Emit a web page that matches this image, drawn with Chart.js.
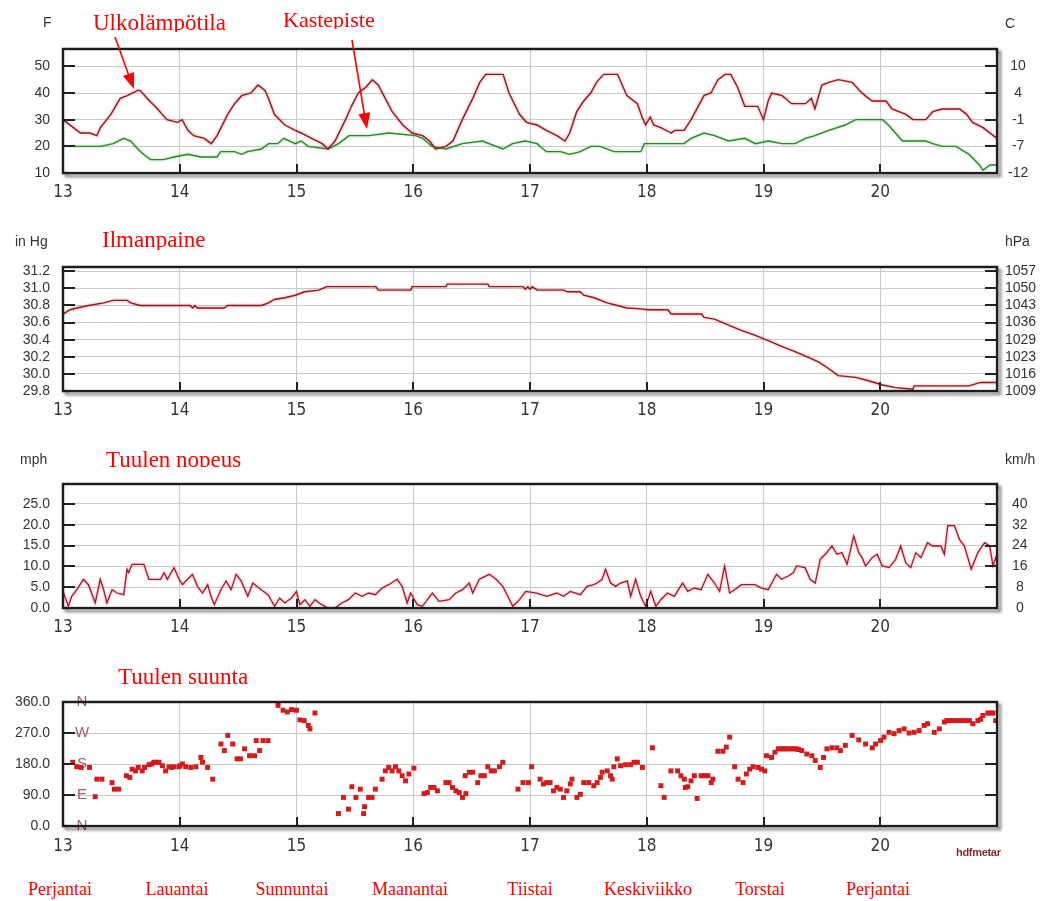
<!DOCTYPE html>
<html>
<head>
<meta charset="utf-8">
<script src="https://cdn.jsdelivr.net/npm/chart.js@4.4.0/dist/chart.umd.min.js"></script>
<style>
  html, body { margin: 0; padding: 0; background: #fff; }
  body { width: 1063px; height: 901px; position: relative; overflow: hidden; font-family: 'Liberation Sans', Arial, sans-serif; }
  canvas { position: absolute; left: 0; }
  .title { position: absolute; font-family: 'Liberation Serif', 'Times New Roman', serif; color: #ff0000; white-space: nowrap; overflow: hidden; line-height: 1; z-index: 3; }
  .unit { position: absolute; color: #333; font-size: 14px; line-height: 1; white-space: nowrap; z-index: 3; }
  .day { position: absolute; top: 880px; font-family: 'Liberation Serif', 'Times New Roman', serif; font-size: 18px; line-height: 1; color: #ff0000; white-space: nowrap; transform: translateX(-50%); }
  .sig { position: absolute; left: 956px; top: 846px; font-size: 11px; font-weight: bold; color: #8b2a2a; letter-spacing: -0.3px; }
  svg { position: absolute; left: 0; top: 0; z-index: 4; }
</style>
</head>
<body>

<canvas id="cTemp" width="1063" height="205" style="top:0px"></canvas>
<canvas id="cPress" width="1063" height="205" style="top:215px"></canvas>
<canvas id="cWind" width="1063" height="200" style="top:440px"></canvas>
<canvas id="cDir" width="1063" height="200" style="top:660px"></canvas>

<div class="unit" style="left:43px;top:15px">F</div>
<div class="unit" style="left:1005px;top:16px">C</div>
<div class="unit" style="left:15px;top:234px">in Hg</div>
<div class="unit" style="left:1005px;top:234px">hPa</div>
<div class="unit" style="left:20px;top:452px">mph</div>
<div class="unit" style="left:1005px;top:452px">km/h</div>

<div class="title" style="left:93px;top:11px;height:21px;font-size:23px">Ulkolämpötila</div>
<div class="title" style="left:283px;top:9px;height:20px;font-size:22px">Kastepiste</div>
<div class="title" style="left:102px;top:228px;height:22px;font-size:23px">Ilmanpaine</div>
<div class="title" style="left:106px;top:448px;height:19px;font-size:23px">Tuulen nopeus</div>
<div class="title" style="left:118px;top:665px;height:26px;font-size:23px">Tuulen suunta</div>

<div id="days"></div>
<div class="sig">hdfmetar</div>

<svg width="1063" height="901">
  <line x1="115" y1="37" x2="129" y2="76" stroke="#ff0000" stroke-width="1.6"/>
  <polygon points="134,89 122.9,76.1 134.1,71.9" fill="#ff0000"/>
  <line x1="352" y1="40" x2="364.5" y2="115" stroke="#ff0000" stroke-width="1.6"/>
  <polygon points="367,129 358.4,114.2 370.2,112.2" fill="#ff0000"/>
</svg>

<script>
// ---------- time axis (day of month) ----------
const dayTicks = [13, 14, 15, 16, 17, 18, 19, 20, 21];
const dayNames = ['Perjantai', 'Lauantai', 'Sunnuntai', 'Maanantai', 'Tiistai', 'Keskiviikko', 'Torstai', 'Perjantai'];
const dayNameCentres = [60, 177, 292, 410, 530, 648, 760, 878];

// ---------- outdoor temperature & dew point (°F) ----------
const tempTimes = [13.00,13.03,13.15,13.23,13.29,13.32,13.41,13.49,13.55,13.64,13.66,13.72,13.81,13.89,13.98,14.02,14.07,14.12,14.21,14.27,14.32,14.41,14.47,14.53,14.61,14.67,14.73,14.76,14.81,14.90,14.99,15.04,15.13,15.22,15.27,15.33,15.42,15.47,15.53,15.59,15.65,15.70,15.76,15.82,15.91,15.99,16.08,16.14,16.19,16.28,16.34,16.42,16.51,16.57,16.62,16.77,16.82,16.91,16.97,17.06,17.14,17.23,17.30,17.34,17.40,17.46,17.52,17.57,17.63,17.75,17.80,17.83,17.92,17.96,17.99,18.03,18.06,18.12,18.21,18.24,18.32,18.38,18.49,18.55,18.61,18.67,18.72,18.78,18.84,18.95,19.00,19.04,19.07,19.16,19.24,19.36,19.41,19.44,19.50,19.56,19.64,19.76,19.82,19.87,19.93,20.05,20.10,20.22,20.28,20.39,20.45,20.53,20.68,20.74,20.79,20.88,21.00];
const tempF = [30,29,25,25,24,27,32,38,39,41,41,38,34,30,29,30,26,24,23,21,24,32,36,39,40,43,41,38,32,28,26,25,23,21,19,22,30,35,40,42,45,43,38,33,28,25,24,22,19,20,22,30,38,44,47,47,40,32,29,28,26,24,22,25,33,37,40,44,47,47,42,39,36,31,28,31,28,27,25,26,26,30,39,40,45,47,47,42,35,35,30,37,40,39,36,36,38,34,43,44,45,44,41,39,37,37,34,32,30,30,33,34,34,32,29,27,23];

const dewTimes = [13.00,13.32,13.43,13.52,13.58,13.64,13.69,13.75,13.86,13.95,14.07,14.18,14.32,14.35,14.47,14.53,14.58,14.70,14.76,14.84,14.89,14.99,15.04,15.10,15.27,15.36,15.45,15.62,15.79,16.02,16.08,16.16,16.28,16.42,16.59,16.71,16.77,16.85,16.96,17.06,17.14,17.26,17.34,17.43,17.52,17.60,17.72,17.95,17.98,18.12,18.32,18.38,18.49,18.58,18.70,18.84,18.93,19.04,19.16,19.27,19.36,19.44,19.56,19.70,19.79,20.02,20.07,20.13,20.19,20.39,20.45,20.53,20.65,20.76,20.85,20.88,20.94,21.00];
const dewF = [20,20,21,23,22,19,17,15,15,16,17,16,16,18,18,17,18,19,21,21,23,21,22,20,19,21,24,24,25,24,23,20,19,21,22,20,19,21,22,21,18,18,17,18,20,20,18,18,21,21,21,23,25,24,22,23,21,22,21,21,23,24,26,28,30,30,28,25,22,22,21,20,20,17,13,11,13,13];

// ---------- barometric pressure (inHg) ----------
const pressTimes = [13.00,13.06,13.12,13.22,13.35,13.43,13.55,13.58,13.66,14.09,14.11,14.13,14.15,14.38,14.41,14.70,14.76,14.81,14.90,14.99,15.07,15.19,15.26,15.68,15.70,15.98,15.99,16.28,16.29,16.64,16.65,16.94,16.96,16.98,17.00,17.02,17.06,17.29,17.32,17.43,17.46,17.55,17.66,17.75,17.83,17.95,18.01,18.18,18.21,18.47,18.49,18.58,18.70,18.81,18.93,19.04,19.16,19.27,19.39,19.47,19.56,19.64,19.79,19.90,20.02,20.13,20.28,20.29,20.76,20.86,21.00];
const pressInHg = [30.70,30.75,30.77,30.80,30.83,30.86,30.86,30.83,30.80,30.80,30.77,30.80,30.77,30.77,30.80,30.80,30.83,30.87,30.89,30.92,30.96,30.98,31.02,31.02,30.98,30.98,31.02,31.02,31.05,31.05,31.02,31.02,30.99,31.02,30.99,31.02,30.98,30.98,30.96,30.96,30.92,30.89,30.83,30.80,30.77,30.76,30.75,30.75,30.70,30.70,30.66,30.64,30.57,30.51,30.45,30.39,30.32,30.26,30.19,30.14,30.06,29.98,29.96,29.92,29.87,29.84,29.82,29.86,29.86,29.90,29.90];

// ---------- wind speed (mph) ----------
const windTimes = [13.000,13.046,13.075,13.118,13.175,13.218,13.276,13.319,13.348,13.376,13.420,13.463,13.520,13.549,13.563,13.592,13.693,13.736,13.836,13.865,13.894,13.951,13.994,14.023,14.052,14.109,14.152,14.195,14.239,14.267,14.296,14.353,14.397,14.440,14.483,14.526,14.583,14.626,14.698,14.756,14.813,14.856,14.899,14.957,15.000,15.029,15.072,15.115,15.158,15.216,15.273,15.330,15.388,15.445,15.503,15.560,15.618,15.675,15.733,15.790,15.862,15.905,15.948,15.977,16.034,16.078,16.164,16.221,16.307,16.365,16.422,16.480,16.509,16.566,16.652,16.710,16.767,16.825,16.853,16.911,16.963,17.057,17.144,17.230,17.287,17.345,17.431,17.489,17.546,17.575,17.618,17.647,17.690,17.733,17.776,17.833,17.862,17.905,17.948,17.991,18.034,18.078,18.121,18.178,18.236,18.307,18.351,18.408,18.466,18.523,18.580,18.624,18.667,18.710,18.753,18.810,18.925,18.983,19.040,19.112,19.155,19.213,19.256,19.284,19.356,19.399,19.443,19.486,19.529,19.586,19.629,19.672,19.716,19.773,19.816,19.845,19.874,19.931,19.974,20.017,20.075,20.132,20.175,20.218,20.261,20.305,20.348,20.405,20.448,20.520,20.549,20.578,20.635,20.678,20.721,20.779,20.836,20.894,20.937,20.966,20.994];
const windMph = [4.0,0.4,2.8,4.4,6.9,5.6,1.2,6.9,4.4,1.2,4.4,3.6,3.2,9.3,8.5,10.5,10.5,6.9,6.9,8.5,6.9,9.7,6.9,5.6,6.5,8.1,5.2,3.6,5.6,2.8,0.8,4.4,6.5,4.4,8.1,6.5,2.8,6.0,4.4,3.2,0.4,2.4,1.2,2.4,4.0,0.8,2.0,0.4,2.0,0.8,0,0,1.2,2.0,3.6,2.8,3.6,3.2,4.8,5.6,6.9,5.2,1.2,3.6,0.8,0.4,3.6,1.6,2.0,3.6,4.4,6.0,3.6,6.9,8.1,6.9,5.2,2.0,0.4,2.0,4.0,3.6,2.8,3.6,2.8,4.0,3.2,5.2,5.6,6.0,6.9,9.3,6.0,5.2,6.0,6.5,2.8,6.9,2.8,0.4,4.0,0.4,2.0,3.6,2.8,6.0,4.0,4.8,4.4,8.1,6.0,4.0,10.1,3.6,4.4,5.6,5.6,4.8,4.4,8.1,6.9,7.7,8.5,10.1,9.7,6.9,6.0,11.7,12.9,14.9,12.9,13.3,10.5,17.3,13.3,12.1,10.1,12.1,12.9,10.1,9.7,11.7,14.9,10.9,9.7,13.3,12.1,15.7,14.9,14.9,12.9,19.8,19.8,16.5,14.9,9.3,13.3,15.7,14.9,10.1,12.5];

// ---------- wind direction (degrees) ----------
const dirTimes = [13.083,13.118,13.155,13.227,13.276,13.290,13.333,13.420,13.440,13.477,13.543,13.572,13.592,13.621,13.644,13.678,13.698,13.736,13.760,13.779,13.800,13.822,13.851,13.879,13.908,13.930,13.951,13.994,14.000,14.023,14.052,14.095,14.138,14.181,14.195,14.239,14.282,14.353,14.382,14.411,14.454,14.491,14.520,14.555,14.598,14.641,14.655,14.684,14.713,14.756,14.842,14.885,14.922,14.957,15.000,15.029,15.066,15.101,15.115,15.158,15.359,15.402,15.445,15.474,15.509,15.546,15.575,15.583,15.618,15.647,15.675,15.733,15.761,15.790,15.819,15.848,15.876,15.905,15.934,15.963,16.006,16.092,16.121,16.149,16.178,16.207,16.279,16.307,16.336,16.365,16.394,16.422,16.451,16.445,16.480,16.509,16.552,16.580,16.609,16.638,16.667,16.695,16.739,16.767,16.897,16.940,16.986,17.014,17.086,17.115,17.144,17.172,17.201,17.230,17.259,17.287,17.316,17.345,17.359,17.402,17.431,17.460,17.503,17.546,17.575,17.603,17.618,17.661,17.690,17.704,17.718,17.747,17.776,17.819,17.862,17.891,17.920,17.963,18.049,18.121,18.149,18.207,18.264,18.293,18.322,18.330,18.351,18.379,18.408,18.431,18.466,18.494,18.523,18.552,18.566,18.609,18.652,18.681,18.710,18.753,18.782,18.825,18.853,18.882,18.911,18.954,18.983,19.011,19.026,19.069,19.098,19.126,19.150,19.170,19.190,19.213,19.241,19.260,19.284,19.300,19.328,19.371,19.414,19.443,19.486,19.514,19.543,19.586,19.629,19.658,19.701,19.759,19.816,19.874,19.931,19.960,20.003,20.032,20.075,20.118,20.161,20.204,20.247,20.290,20.333,20.376,20.405,20.463,20.506,20.549,20.570,20.592,20.620,20.649,20.680,20.707,20.730,20.764,20.793,20.836,20.860,20.879,20.922,20.950,20.966,20.989];
const dirDeg = [185,172,170,170,85,136,136,126,107,107,146,141,165,160,170,160,170,178,180,185,185,185,175,160,172,170,172,172,175,180,172,170,172,199,185,170,136,238,219,263,238,195,195,224,204,204,248,219,248,248,350,336,331,338,336,308,306,292,282,328,36,83,49,114,83,107,36,56,83,83,107,136,160,170,160,172,160,146,131,151,168,94,97,112,112,102,126,126,112,102,97,83,94,146,156,156,126,146,146,172,160,160,172,185,107,126,126,172,136,122,126,126,102,112,107,83,102,122,136,83,92,126,126,117,126,141,156,160,146,136,172,195,175,178,178,185,185,170,227,117,83,160,160,146,136,112,114,131,146,80,146,146,146,126,136,217,217,229,258,172,136,126,151,165,172,170,165,160,204,199,214,224,224,224,224,224,224,224,224,222,219,209,204,190,170,199,224,227,227,219,234,263,250,238,227,238,248,258,272,268,277,282,270,272,277,292,297,272,282,302,306,306,306,306,306,306,306,306,297,306,310,321,328,328,328,306];

// ---------- axis tick values & paired-unit labels ----------
const tempTicksF = [10, 20, 30, 40, 50];
const tempLabelsC = ['-12', '-7', '-1', '4', '10'];
const pressTicksInHg = [29.8, 30.0, 30.2, 30.4, 30.6, 30.8, 31.0, 31.2];
const pressLabelsHpa = ['1009', '1016', '1023', '1029', '1036', '1043', '1050', '1057'];
const windTicksMph = [0, 5, 10, 15, 20, 25];
const windLabelsKmh = ['0', '8', '16', '24', '32', '40'];
const dirTicksDeg = [0, 90, 180, 270, 360];
const compassLetters = ['N', 'E', 'S', 'W', 'N'];

// ---------- helpers ----------
const pairs = (xs, ys) => xs.map((x, i) => ({ x: x, y: ys[i] }));
const TICK_FONT = { family: "'Liberation Sans', Arial, sans-serif", size: 14 };
const X_FONT = { family: "'Liberation Sans Narrow', 'DejaVu Sans Condensed', 'Liberation Sans', sans-serif", size: 17 };
const GRID = '#c9c9c9';

// Soft coloured halo around each trace (per-dataset glow colour)
const glowPlugin = {
  id: 'glow',
  beforeDatasetDraw(chart, args) {
    const glow = args.meta._dataset.glow;
    if (!glow) return;
    chart.ctx.save();
    chart.ctx.shadowColor = glow;
    chart.ctx.shadowBlur = 2.5;
  },
  afterDatasetDraw(chart, args) {
    if (args.meta._dataset.glow) chart.ctx.restore();
  }
};

// Heavy frame with a soft drop shadow, plus short inward tick marks
const framePlugin = {
  id: 'frame',
  afterDatasetsDraw(chart) {
    const { ctx, chartArea: a, scales } = chart;
    const W = chart.width, H = chart.height;
    ctx.save();
    ctx.strokeStyle = '#222';
    ctx.lineWidth = 2;
    ctx.beginPath();
    scales.y.ticks.forEach(t => {
      const y = Math.round(scales.y.getPixelForValue(t.value));
      ctx.moveTo(a.left, y); ctx.lineTo(a.left + 12, y);
      ctx.moveTo(a.right - 12, y); ctx.lineTo(a.right, y);
    });
    scales.x.ticks.forEach(t => {
      const x = Math.round(scales.x.getPixelForValue(t.value));
      ctx.moveTo(x, a.bottom); ctx.lineTo(x, a.bottom - 9);
    });
    ctx.stroke();
    ctx.restore();

    ctx.save();
    ctx.beginPath();
    ctx.rect(0, 0, W, H);
    ctx.rect(a.left + 1.5, a.top + 1.5, a.right - a.left - 3, a.bottom - a.top - 3);
    ctx.clip('evenodd');
    ctx.shadowColor = 'rgba(0,0,0,0.5)';
    ctx.shadowBlur = 3;
    ctx.shadowOffsetX = 3;
    ctx.shadowOffsetY = 3;
    ctx.lineWidth = 2.5;
    ctx.strokeStyle = '#1c1c1c';
    ctx.strokeRect(a.left, a.top, a.right - a.left, a.bottom - a.top);
    ctx.restore();
  }
};

// Compass letters beside the direction axis
const compassPlugin = {
  id: 'compass',
  beforeDatasetsDraw(chart) {
    const { ctx, scales } = chart;
    ctx.save();
    ctx.fillStyle = 'rgba(150,60,60,0.85)';
    ctx.font = "15px 'Liberation Sans', Arial, sans-serif";
    ctx.textAlign = 'center';
    ctx.textBaseline = 'middle';
    dirTicksDeg.forEach((v, i) => {
      ctx.fillText(compassLetters[i], 82, scales.y.getPixelForValue(v));
    });
    ctx.restore();
  }
};

function makePanel(id, o) {
  const canvas = document.getElementById(id);
  const H = canvas.height;
  const plotH = o.plotH;
  return new Chart(canvas, {
    type: o.type || 'line',
    data: { datasets: o.datasets },
    options: {
      responsive: false,
      animation: false,
      devicePixelRatio: 1,
      layout: { padding: { top: o.padTop, left: 0, right: 0, bottom: 0 } },
      plugins: { legend: { display: false }, tooltip: { enabled: false } },
      elements: { line: { tension: 0 } },
      scales: {
        x: {
          type: 'linear', min: 13, max: 21, bounds: 'data',
          afterBuildTicks: s => { s.ticks = dayTicks.map(v => ({ value: v })); },
          afterFit: s => { s.height = H - o.padTop - plotH; s.paddingLeft = 0; s.paddingRight = 0; },
          grid: {
            color: c => (c.tick && (c.tick.value === 13 || c.tick.value === 21)) ? 'rgba(0,0,0,0)' : GRID,
            drawTicks: false, lineWidth: 1
          },
          border: { display: false },
          ticks: {
            autoSkip: false, maxRotation: 0, padding: o.xPad, color: '#333', font: X_FONT,
            callback: v => (v === 21 ? '' : String(v))
          }
        },
        y: {
          position: 'left', min: o.min, max: o.max, bounds: 'data',
          afterBuildTicks: s => { s.ticks = o.ticks.map(v => ({ value: v })); },
          afterFit: s => { s.width = 63; s.paddingTop = 0; s.paddingBottom = 0; },
          grid: {
            color: c => (c.tick && (c.tick.value <= o.min || c.tick.value >= o.max)) ? 'rgba(0,0,0,0)' : GRID,
            drawTicks: false, lineWidth: 1
          },
          border: { display: false },
          ticks: { autoSkip: false, padding: 13, color: '#333', font: TICK_FONT, callback: o.fmt }
        },
        y2: {
          position: 'right', min: o.min, max: o.max, bounds: 'data',
          afterBuildTicks: s => { s.ticks = o.ticks.map(v => ({ value: v })); },
          afterFit: s => { s.width = 66; s.paddingTop = 0; s.paddingBottom = 0; },
          grid: { display: false, drawTicks: false },
          border: { display: false },
          ticks: {
            display: !!o.right, autoSkip: false, crossAlign: 'center', padding: o.rightPad || 10,
            color: '#333', font: TICK_FONT,
            callback: (v, i) => (o.right ? o.right[i] : '')
          }
        }
      }
    },
    plugins: o.plugins || [glowPlugin, framePlugin]
  });
}

// ---------- panels ----------
makePanel('cTemp', {
  padTop: 49, plotH: 124, xPad: 9, min: 10, max: 56.5,
  ticks: tempTicksF, fmt: v => String(v), right: tempLabelsC, rightPad: 11,
  datasets: [
    { data: pairs(tempTimes, tempF), borderColor: '#8c1d25', borderWidth: 1.4, pointRadius: 0, glow: 'rgba(255,90,90,0.8)' },
    { data: pairs(dewTimes, dewF), borderColor: '#2d862d', borderWidth: 1.4, pointRadius: 0, glow: 'rgba(90,200,90,0.7)' }
  ]
});

makePanel('cPress', {
  padTop: 52, plotH: 124, xPad: 9, min: 29.8, max: 31.25,
  ticks: pressTicksInHg, fmt: v => v.toFixed(1), right: pressLabelsHpa, rightPad: 8,
  datasets: [
    { data: pairs(pressTimes, pressInHg), borderColor: '#8c1d25', borderWidth: 1.4, pointRadius: 0, glow: 'rgba(255,90,90,0.8)' }
  ]
});

makePanel('cWind', {
  padTop: 44, plotH: 124, xPad: 9, min: 0, max: 29.8,
  ticks: windTicksMph, fmt: v => v.toFixed(1), right: windLabelsKmh, rightPad: 15,
  datasets: [
    { data: pairs(windTimes, windMph), borderColor: '#a01c2c', borderWidth: 1.3, pointRadius: 0, glow: 'rgba(255,80,100,0.7)' }
  ]
});

makePanel('cDir', {
  type: 'scatter',
  padTop: 42, plotH: 124, xPad: 10, min: 0, max: 360,
  ticks: dirTicksDeg, fmt: v => v.toFixed(1), right: null,
  plugins: [compassPlugin, framePlugin],
  datasets: [
    { data: pairs(dirTimes, dirDeg), backgroundColor: '#d41a1a', borderWidth: 0,
      pointStyle: 'rect', pointRadius: 3.5, showLine: false }
  ]
});

// ---------- weekday captions ----------
const daysBox = document.getElementById('days');
dayNames.forEach((name, i) => {
  const d = document.createElement('div');
  d.className = 'day';
  d.style.left = dayNameCentres[i] + 'px';
  d.textContent = name;
  daysBox.appendChild(d);
});
</script>
</body>
</html>
